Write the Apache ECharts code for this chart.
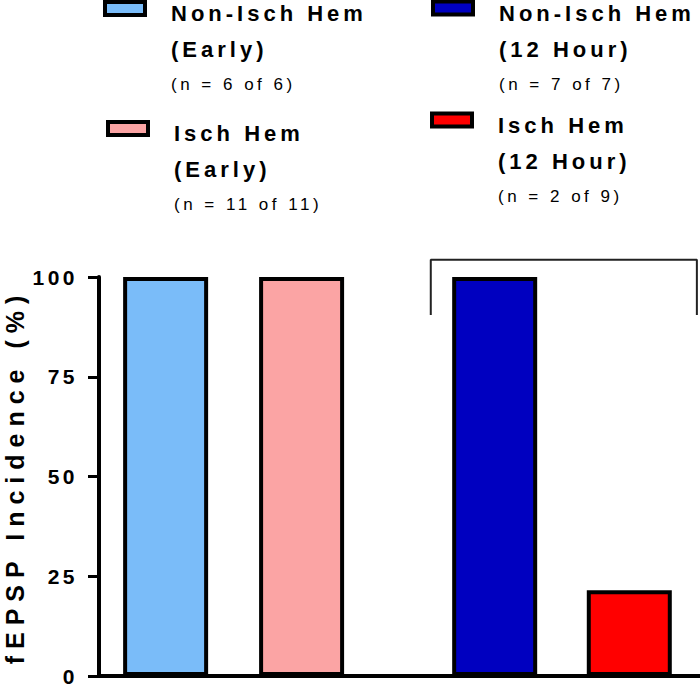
<!DOCTYPE html>
<html>
<head>
<meta charset="utf-8">
<script src="https://cdn.jsdelivr.net/npm/echarts@6/dist/echarts.min.js"></script>
<style>
html,body{margin:0;padding:0;background:#fff;}
#chart{width:700px;height:687px;}
</style>
</head>
<body>
<div id="chart"></div>
<script>
// ---- data ----
var seriesNames = ['Non-Isch Hem (Early)', 'Isch Hem (Early)', 'Non-Isch Hem (12 Hour)', 'Isch Hem (12 Hour)'];
var nameLine1 = ['Non-Isch Hem', 'Isch Hem', 'Non-Isch Hem', 'Isch Hem'];
var nameLine2 = ['(Early)', '(Early)', '(12 Hour)', '(12 Hour)'];
var nLabels = ['(n = 6 of 6)', '(n = 11 of 11)', '(n = 7 of 7)', '(n = 2 of 9)'];
var groupX = [1, 2, 3.42, 4.41];
var incidence = [100, 100, 100, 21.5];
var yTicks = [0, 25, 50, 75, 100];
var bracketX = [2.95, 2.95, 4.907, 4.907];
var bracketY = [90.5, 104.3, 104.3, 90.5];

// ---- styles ----
var colors = ['#7abcf9', '#fba4a4', '#0000c0', '#ff0000'];
var FONT = '"Liberation Sans", Arial, Helvetica, sans-serif';
var legendPos = [
  {left: 103, top: -84.5},
  {left: 106, top: 35.5},
  {left: 431, top: -85},
  {left: 430, top: 27}
];
var spacingBySize = {17: 3.5, 22: 4, 21: 3.5, 25: 7};

var chart = echarts.init(document.getElementById('chart'), null, {renderer: 'svg'});

var series = seriesNames.map(function (name, i) {
  return {
    name: name,
    type: 'bar',
    barWidth: 85,
    barGap: '-100%',
    data: [[groupX[i], incidence[i]]],
    itemStyle: {color: colors[i], borderColor: '#000', borderWidth: 4},
    emphasis: {disabled: true},
    animation: false
  };
});
series.push({
  type: 'line',
  data: bracketX.map(function (x, i) { return [x, bracketY[i]]; }),
  symbol: 'none',
  clip: false,
  lineStyle: {color: '#222', width: 2},
  silent: true,
  animation: false
});

var legends = seriesNames.map(function (name, i) {
  return {
    data: [name],
    left: legendPos[i].left,
    top: legendPos[i].top,
    padding: 0,
    selectedMode: false,
    icon: 'rect',
    itemWidth: 40,
    itemHeight: 13,
    itemStyle: {borderColor: '#000', borderWidth: 4},
    formatter: function () {
      return '{b|' + nameLine1[i] + '}\n{b|' + nameLine2[i] + '}\n{s|' + nLabels[i] + '}';
    },
    textStyle: {
      padding: [80, 0, 0, 21],
      backgroundColor: 'transparent',
      rich: {
        b: {fontFamily: FONT, fontSize: 22, fontWeight: 'bold', color: '#000', lineHeight: 36},
        s: {fontFamily: FONT, fontSize: 17, fontWeight: 'normal', color: '#000', lineHeight: 34}
      }
    }
  };
});

chart.setOption({
  animation: false,
  backgroundColor: '#fff',
  grid: {left: 99, right: 0, top: 277, bottom: 11, containLabel: false, outerBoundsMode: 'none'},
  legend: legends,
  xAxis: {
    type: 'value',
    min: 0.51,
    max: 4.93,
    axisLine: {show: true, onZero: false, lineStyle: {color: '#000', width: 4}},
    axisTick: {show: false},
    axisLabel: {show: false},
    splitLine: {show: false}
  },
  yAxis: {
    type: 'value',
    min: yTicks[0],
    max: yTicks[yTicks.length - 1],
    interval: yTicks[1] - yTicks[0],
    name: 'fEPSP Incidence (%)',
    nameLocation: 'middle',
    nameGap: 72,
    nameTextStyle: {fontFamily: FONT, fontSize: 25, fontWeight: 'bold', color: '#000'},
    axisLine: {show: true, lineStyle: {color: '#000', width: 4}},
    axisTick: {show: true, length: 11, lineStyle: {color: '#000', width: 3}},
    axisLabel: {margin: 21, fontFamily: FONT, fontSize: 21, fontWeight: 'bold', color: '#000'},
    splitLine: {show: false}
  },
  series: series
});

function applySpacing() {
  var texts = chart.getDom().querySelectorAll('text');
  texts.forEach(function (t) {
    var fs = Math.round(parseFloat(getComputedStyle(t).fontSize));
    if (spacingBySize[fs] != null) {
      t.setAttribute('letter-spacing', spacingBySize[fs] + 'px');
      t.style.letterSpacing = spacingBySize[fs] + 'px';
    }
  });
}
chart.on('finished', applySpacing);
applySpacing();
</script>
</body>
</html>
